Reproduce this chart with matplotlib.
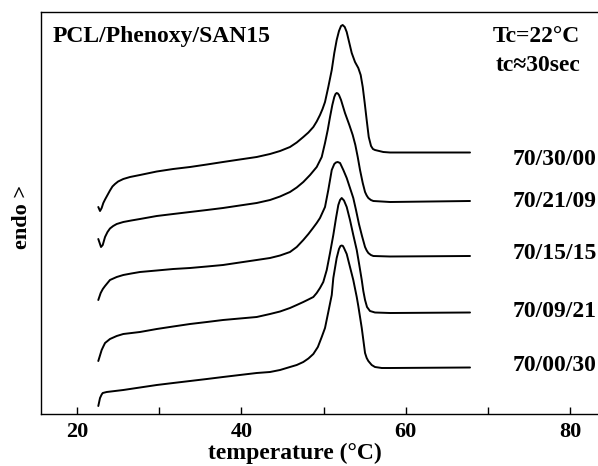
import matplotlib
matplotlib.use("Agg")
import matplotlib.pyplot as plt

# DSC heating traces of PCL/Phenoxy/SAN15 blends (temperature in degC, endothermic signal in a.u.)
labels = ["70/30/00", "70/21/09", "70/15/15", "70/09/21", "70/00/30"]

temp_70_30_00 = [22.59, 22.80, 23.00, 23.20, 23.41, 23.61, 24.01, 24.31, 24.62, 25.00,
                 25.63, 26.45, 27.66, 29.70, 31.70, 33.75, 35.80, 37.76, 39.80, 41.86,
                 43.48, 44.70, 45.91, 46.73, 47.53, 48.15, 48.75, 49.16, 49.56, 49.87,
                 50.17, 50.57, 50.99, 51.30, 51.59, 51.87, 52.12, 52.32, 52.57, 52.81,
                 53.13, 53.42, 53.82, 54.22, 54.51, 54.76, 55.00, 55.24, 55.49, 55.77,
                 56.00, 56.25, 57.26, 58.08, 62.94, 67.81]
endo_70_30_00 = [20.7, 20.3, 20.6, 21.1, 21.45, 21.75, 22.35, 22.75, 23.0, 23.25,
                 23.5, 23.7, 23.9, 24.25, 24.5, 24.7, 24.95, 25.2, 25.45, 25.7,
                 26.0, 26.3, 26.7, 27.15, 27.7, 28.15, 28.7, 29.25, 29.9, 30.5,
                 31.2, 32.7, 34.4, 36.1, 37.4, 38.3, 38.8, 38.9, 38.7, 38.2,
                 37.1, 36.1, 35.2, 34.6, 33.9, 32.7, 31.1, 29.4, 27.7, 26.8,
                 26.5, 26.4, 26.2, 26.15, 26.15, 26.15]

temp_70_21_09 = [22.59, 22.92, 23.13, 23.41, 23.71, 24.01, 24.40, 24.83, 25.63, 26.60,
                 27.66, 29.70, 31.70, 33.75, 35.80, 37.76, 39.80, 41.86, 43.48, 44.70,
                 45.91, 46.73, 47.53, 48.35, 49.16, 49.77, 50.17, 50.50, 50.78, 51.06,
                 51.30, 51.45, 51.59, 51.73, 51.87, 52.12, 52.60, 53.13, 53.54, 53.86,
                 54.15, 54.43, 54.76, 55.04, 55.24, 55.44, 55.75, 56.05, 58.08, 67.81]
endo_70_21_09 = [17.5, 16.7, 16.9, 17.7, 18.2, 18.55, 18.8, 19.0, 19.2, 19.35,
                 19.5, 19.8, 20.0, 20.2, 20.4, 20.6, 20.85, 21.1, 21.4, 21.75,
                 22.2, 22.65, 23.2, 23.9, 24.7, 25.7, 27.1, 28.4, 29.7, 30.9,
                 31.7, 32.0, 32.1, 32.05, 31.9, 31.4, 30.1, 28.9, 27.9, 26.9,
                 25.7, 24.4, 23.1, 22.2, 21.85, 21.6, 21.4, 21.3, 21.2, 21.3]

temp_70_15_15 = [22.59, 22.88, 23.14, 23.41, 24.01, 24.83, 25.63, 26.60, 27.66, 29.70,
                 31.70, 33.75, 35.80, 37.76, 39.80, 41.86, 43.48, 44.70, 45.91, 46.73,
                 47.53, 48.15, 48.71, 49.16, 49.56, 50.17, 50.57, 50.99, 51.30, 51.50,
                 51.71, 52.00, 52.40, 52.81, 53.21, 53.61, 53.94, 54.30, 54.67, 55.04,
                 55.24, 55.44, 55.75, 56.05, 58.08, 67.81]
endo_70_15_15 = [11.4, 12.1, 12.5, 12.8, 13.4, 13.7, 13.9, 14.05, 14.2, 14.35,
                 14.5, 14.6, 14.75, 14.9, 15.15, 15.4, 15.6, 15.85, 16.2, 16.7,
                 17.4, 18.0, 18.6, 19.1, 19.6, 20.7, 22.4, 24.4, 25.0, 25.15,
                 25.2, 25.1, 24.4, 23.6, 22.6, 21.6, 20.4, 19.0, 17.8, 16.7,
                 16.35, 16.1, 15.9, 15.8, 15.75, 15.8]

temp_70_09_21 = [22.59, 23.00, 23.20, 23.41, 24.01, 24.83, 25.63, 27.66, 29.70, 31.70,
                 33.75, 35.80, 37.76, 39.80, 41.86, 43.48, 44.70, 45.91, 46.73, 47.53,
                 48.15, 48.75, 49.16, 49.56, 49.96, 50.38, 50.78, 51.18, 51.51, 51.79,
                 52.00, 52.20, 52.48, 52.81, 53.21, 53.61, 54.03, 54.34, 54.64, 54.83,
                 55.04, 55.28, 55.64, 56.25, 58.08, 67.81]
endo_70_09_21 = [5.3, 6.4, 6.75, 7.1, 7.5, 7.8, 8.0, 8.2, 8.5, 8.75,
                 9.0, 9.2, 9.4, 9.55, 9.7, 10.0, 10.25, 10.6, 10.9, 11.2,
                 11.45, 11.7, 12.1, 12.6, 13.2, 14.4, 16.1, 17.9, 19.6, 20.9,
                 21.4, 21.6, 21.35, 20.7, 19.4, 17.9, 16.4, 14.9, 13.4, 12.3,
                 11.4, 10.7, 10.3, 10.15, 10.1, 10.15]

temp_70_00_30 = [22.59, 22.80, 23.00, 23.13, 23.61, 25.63, 27.66, 29.70, 31.70, 33.75,
                 35.80, 37.76, 39.80, 41.86, 43.48, 44.70, 45.91, 46.73, 47.53, 48.15,
                 48.75, 49.30, 49.77, 50.17, 50.57, 50.99, 51.18, 51.59, 51.87, 52.05,
                 52.20, 52.35, 52.48, 52.81, 53.21, 53.61, 54.03, 54.22, 54.64, 55.04,
                 55.24, 55.44, 55.85, 56.25, 57.07, 58.08, 67.81]
endo_70_00_30 = [0.8, 1.6, 1.95, 2.1, 2.2, 2.4, 2.65, 2.9, 3.1, 3.3,
                 3.5, 3.7, 3.9, 4.1, 4.2, 4.4, 4.7, 4.9, 5.2, 5.55,
                 6.0, 6.7, 7.7, 8.6, 10.2, 11.9, 13.6, 15.6, 16.5, 16.8,
                 16.85, 16.8, 16.6, 16.0, 14.7, 13.4, 11.7, 10.8, 8.6, 6.1,
                 5.6, 5.3, 4.9, 4.7, 4.6, 4.6, 4.65]

temps = [temp_70_30_00, temp_70_21_09, temp_70_15_15, temp_70_09_21, temp_70_00_30]
endos = [endo_70_30_00, endo_70_21_09, endo_70_15_15, endo_70_09_21, endo_70_00_30]

major_ticks = [20, 40, 60, 80]
minor_ticks = [30, 50, 70]

plt.rcParams["font.family"] = ["Liberation Serif", "DejaVu Serif"]
plt.rcParams["font.weight"] = "bold"

W, H = 598, 466
fig = plt.figure(figsize=(W / 100, H / 100), dpi=100)
ax = fig.add_axes([41 / W, 52 / H, 557 / W, 402 / H])

for t, e in zip(temps, endos):
    ax.plot(t, e, color="black", lw=1.4, solid_joinstyle="round", solid_capstyle="round")

ax.set_xlim(15.62, 83.38)
ax.set_ylim(0, 40.2)

ax.spines["right"].set_visible(False)
for side in ("left", "top", "bottom"):
    ax.spines[side].set_linewidth(1.0)

ax.set_xticks(major_ticks)
ax.set_xticks(minor_ticks, minor=True)
ax.set_xticklabels([str(v) for v in major_ticks])
ax.tick_params(axis="x", which="both", direction="in", length=5, width=1.0,
               labelsize=16, pad=6)
ax.set_yticks([])

# sample labels to the right of each trace
label_baselines = [24.9, 20.7, 15.5, 9.7, 4.3]
for lab, yb in zip(labels, label_baselines):
    ax.text(73.0, yb, lab, fontsize=17, fontweight="bold", ha="left", va="baseline")

ax.text(0.0215, 0.925, "PCL/Phenoxy/SAN15", transform=ax.transAxes,
        fontsize=17, fontweight="bold", ha="left", va="baseline")
ax.text(0.890, 0.926, "Tc=22°C", transform=ax.transAxes,
        fontsize=17, fontweight="bold", ha="center", va="baseline")
ax.text(0.8927, 0.854, "tc≈30sec", transform=ax.transAxes,
        fontsize=17, fontweight="bold", ha="center", va="baseline")

ax.text(0.456, -0.112, "temperature (°C)", transform=ax.transAxes,
        fontsize=17, fontweight="bold", ha="center", va="baseline")
ax.text(-0.034, 0.49, "endo >", transform=ax.transAxes, rotation=90,
        fontsize=16, fontweight="bold", ha="center", va="center")

fig.savefig("out.png", dpi=100)
